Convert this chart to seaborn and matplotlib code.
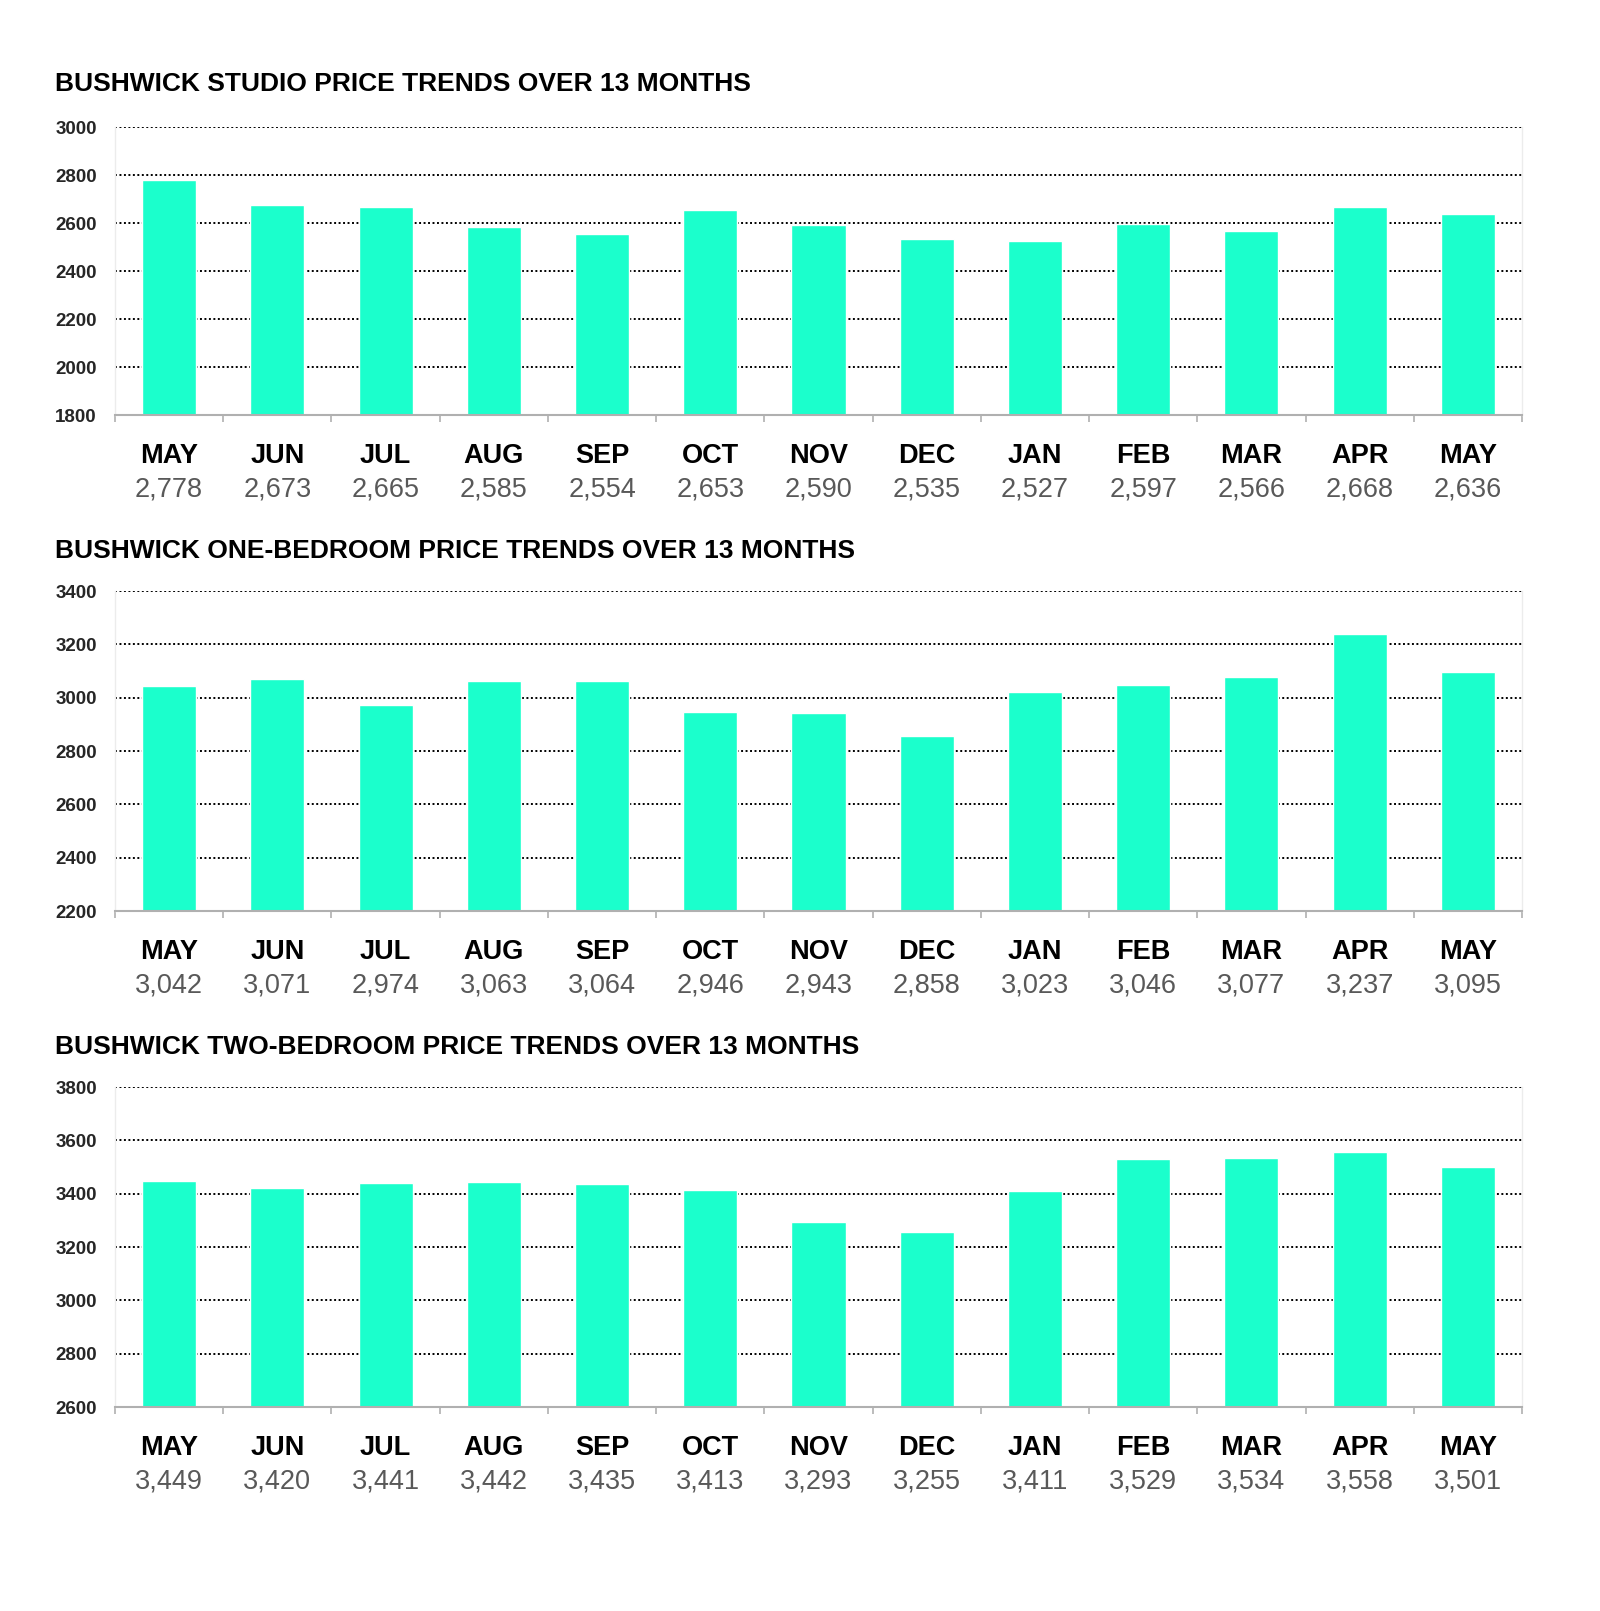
import numpy as np
import pandas as pd
import matplotlib
matplotlib.use("Agg")
import matplotlib.pyplot as plt
import seaborn as sns

# month labels and median asking rents
months = ["MAY", "JUN", "JUL", "AUG", "SEP", "OCT", "NOV", "DEC",
          "JAN", "FEB", "MAR", "APR", "MAY"]
studio = [2778, 2673, 2665, 2585, 2554, 2653, 2590, 2535, 2527, 2597, 2566, 2668, 2636]
one_bed = [3042, 3071, 2974, 3063, 3064, 2946, 2943, 2858, 3023, 3046, 3077, 3237, 3095]
two_bed = [3449, 3420, 3441, 3442, 3435, 3413, 3293, 3255, 3411, 3529, 3534, 3558, 3501]

titles = ["BUSHWICK STUDIO PRICE TRENDS OVER 13 MONTHS",
          "BUSHWICK ONE-BEDROOM PRICE TRENDS OVER 13 MONTHS",
          "BUSHWICK TWO-BEDROOM PRICE TRENDS OVER 13 MONTHS"]
y_ranges = [(1800, 3000), (2200, 3400), (2600, 3800)]

sns.set_style("white")
plt.rcParams['font.family'] = ['Liberation Sans', 'DejaVu Sans']

W, H = 1600, 1611
fig = plt.figure(figsize=(W / 100, H / 100), dpi=100)

# panel boxes in pixels: (top, bottom), title y
panels = [(127, 415, 84), (591, 911, 551), (1087, 1407, 1047)]
left, right = 115, 1522
bar_color = "#1bffcc"

for series, title, (ymin, ymax), (top, bottom, ty) in zip(
        [studio, one_bed, two_bed], titles, y_ranges, panels):
    ax = fig.add_axes([left / W, 1 - bottom / H, (right - left) / W, (bottom - top) / H])
    df = pd.DataFrame({"pos": range(len(months)), "price": series})
    sns.barplot(data=df, x="pos", y="price", color=bar_color, saturation=1,
                width=0.5, ax=ax)
    ax.set_ylim(ymin, ymax)
    ax.set_xlim(-0.5, len(months) - 0.5)
    ax.set_yticks(np.arange(ymin, ymax + 1, 200))
    ax.set_axisbelow(True)
    ax.yaxis.grid(True, color="black", linestyle=(0, (1, 1.3)), linewidth=1.4)
    ax.xaxis.grid(False)
    ax.set_xlabel("")
    ax.set_ylabel("")
    ax.tick_params(axis="y", length=0, pad=13, labelsize=13.5)
    for lab in ax.get_yticklabels():
        lab.set_fontweight("bold")
    # tick marks between categories
    ax.set_xticks([])
    ax.set_xticks(np.arange(-0.5, len(months)), minor=True)
    ax.tick_params(axis="x", which="minor", length=5, width=1.2, color="#b0b0b0",
                   direction="out", bottom=True)
    ax.set_xticklabels([], minor=True)
    for side in ["left", "right"]:
        ax.spines[side].set_visible(True)
        ax.spines[side].set_color("#ececec")
        ax.spines[side].set_linewidth(1)
    ax.spines["top"].set_visible(False)
    ax.spines["bottom"].set_color("#b0b0b0")
    ax.spines["bottom"].set_linewidth(1.5)

    for i, (m, v) in enumerate(zip(months, series)):
        ax.annotate(m, xy=(i, 0), xycoords=("data", "axes fraction"),
                    xytext=(0, -29.5), textcoords="offset points",
                    ha="center", va="center", fontsize=19.5, fontweight="bold",
                    color="black")
        ax.annotate(f"{v:,}", xy=(i, 0), xycoords=("data", "axes fraction"),
                    xytext=(0, -54), textcoords="offset points",
                    ha="center", va="center", fontsize=19.5, color="#595959")

    fig.text(55 / W, 1 - ty / H, title, ha="left", va="center",
             fontsize=19, fontweight="bold", color="black")

fig.savefig("out.png", dpi=100, facecolor="white")
